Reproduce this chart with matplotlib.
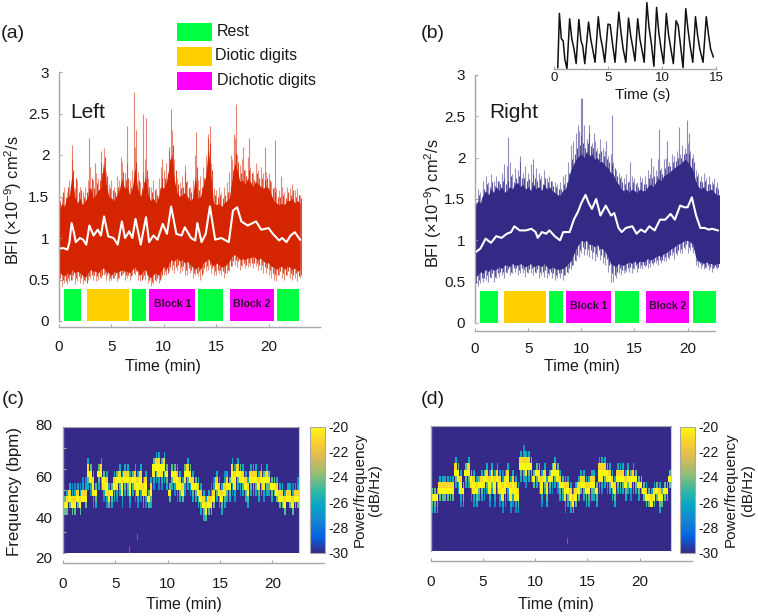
#!/usr/bin/env python3
"""BFI traces for left and right hemispheres with their spectrograms."""

import numpy as np
import matplotlib
matplotlib.use('Agg')
import matplotlib.pyplot as plt
from matplotlib.colors import LinearSegmentedColormap

W, H = 758, 616
GREY = '#A8A8A8'
TXT = '#1A1A1A'
RED = '#D42400'
BLUE = '#332A85'
GREEN = '#00FF40'
ORANGE = '#FFD000'
MAGENTA = '#FF00FF'

plt.rcParams.update({
    'font.family': ['Liberation Sans', 'DejaVu Sans'],
    'font.size': 10.5,
    'mathtext.fontset': 'custom',
    'mathtext.rm': 'Liberation Sans',
    'mathtext.default': 'regular',
    'text.color': TXT,
    'axes.unicode_minus': False,
})

PARULA = ['#352A87', '#0363E1', '#1485D4', '#06A7C6', '#38B99E',
          '#92BF73', '#D9BA56', '#FCCE2E', '#F9FB0E']

# one value every 0.25 min, 0 to 23 min
left_hi = [1.32, 1.42, 1.38, 1.48, 1.52, 1.78, 1.5, 1.42, 1.48, 1.4, 1.45, 1.5, 1.62, 1.48, 1.52, 1.58,
           1.6, 1.92, 1.65, 1.5, 1.48, 1.45, 1.52, 1.58, 1.72, 1.6, 1.62, 1.52, 1.6, 1.85, 1.6, 1.5,
           1.58, 1.75, 1.52, 1.45, 1.48, 1.42, 1.5, 1.62, 1.6, 1.68, 1.85, 2.02, 1.7, 1.55, 1.5, 1.52,
           1.55, 1.5, 1.45, 1.48, 1.75, 1.48, 1.5, 1.62, 1.75, 2.08, 1.72, 1.42, 1.4, 1.42, 1.38, 1.42,
           1.45, 1.48, 1.7, 1.9, 1.82, 1.68, 1.7, 1.65, 1.72, 1.68, 1.62, 1.68, 1.65, 1.62, 1.6, 1.62,
           1.6, 1.52, 1.45, 1.42, 1.4, 1.42, 1.4, 1.45, 1.45, 1.48, 1.42, 1.45, 1.42]
left_lo = [0.6, 0.56, 0.54, 0.58, 0.55, 0.62, 0.58, 0.6, 0.58, 0.55, 0.52, 0.58, 0.62, 0.6, 0.6, 0.58,
           0.62, 0.64, 0.6, 0.58, 0.55, 0.6, 0.58, 0.6, 0.62, 0.6, 0.6, 0.58, 0.62, 0.65, 0.6, 0.55,
           0.6, 0.62, 0.55, 0.52, 0.56, 0.58, 0.55, 0.6, 0.66, 0.62, 0.7, 0.74, 0.72, 0.76, 0.72, 0.74,
           0.7, 0.72, 0.68, 0.65, 0.62, 0.66, 0.62, 0.7, 0.72, 0.75, 0.7, 0.66, 0.7, 0.68, 0.65, 0.66,
           0.68, 0.72, 0.78, 0.8, 0.78, 0.74, 0.75, 0.74, 0.76, 0.76, 0.78, 0.76, 0.74, 0.76, 0.72, 0.7,
           0.7, 0.66, 0.65, 0.62, 0.65, 0.66, 0.62, 0.66, 0.65, 0.62, 0.64, 0.6, 0.62]
left_top = [1.6, 1.5, 1.62, 1.55, 1.7, 1.95, 1.6, 1.7, 1.62, 1.55, 1.62, 1.7, 1.85, 1.7, 1.78, 1.72,
            1.9, 2.08, 1.8, 1.65, 1.7, 1.62, 1.75, 1.7, 1.92, 1.78, 1.9, 1.7, 1.82, 2.1, 1.8, 1.68,
            1.8, 1.95, 1.72, 1.62, 1.7, 1.6, 1.72, 1.85, 1.82, 1.9, 2.05, 2.3, 1.95, 1.72, 1.68, 1.75,
            1.8, 1.7, 1.62, 1.7, 2.0, 1.7, 1.75, 1.85, 2.0, 2.25, 1.9, 1.6, 1.58, 1.62, 1.55, 1.62,
            1.68, 1.8, 1.95, 2.2, 2.0, 1.88, 1.95, 1.82, 1.98, 1.85, 1.8, 1.9, 1.82, 1.85, 1.78, 1.8,
            1.78, 1.68, 1.62, 1.6, 1.58, 1.62, 1.55, 1.62, 1.6, 1.65, 1.58, 1.6, 1.52]
left_top2 = [1.45, 1.55, 1.5, 1.62, 1.62, 1.82, 1.72, 1.55, 1.58, 1.5, 1.55, 1.6, 1.72, 1.6, 1.66, 1.7,
             1.78, 1.98, 1.75, 1.6, 1.58, 1.55, 1.62, 1.65, 1.8, 1.7, 1.72, 1.62, 1.7, 1.92, 1.7, 1.6,
             1.68, 1.82, 1.62, 1.55, 1.58, 1.52, 1.6, 1.72, 1.72, 1.78, 1.95, 2.12, 1.82, 1.65, 1.6, 1.62,
             1.68, 1.6, 1.55, 1.58, 1.85, 1.58, 1.62, 1.72, 1.85, 2.15, 1.82, 1.52, 1.5, 1.52, 1.48, 1.52,
             1.55, 1.62, 1.82, 2.02, 1.92, 1.78, 1.82, 1.75, 1.82, 1.78, 1.7, 1.78, 1.72, 1.72, 1.7, 1.72,
             1.7, 1.6, 1.55, 1.5, 1.5, 1.52, 1.48, 1.55, 1.52, 1.58, 1.5, 1.52, 1.48]
left_bot = [0.48, 0.42, 0.46, 0.44, 0.48, 0.5, 0.45, 0.48, 0.46, 0.44, 0.48, 0.5, 0.52, 0.5, 0.48, 0.5,
            0.52, 0.55, 0.5, 0.48, 0.5, 0.52, 0.48, 0.52, 0.55, 0.5, 0.52, 0.5, 0.55, 0.56, 0.5, 0.48,
            0.52, 0.5, 0.46, 0.42, 0.45, 0.48, 0.46, 0.52, 0.55, 0.56, 0.6, 0.62, 0.58, 0.62, 0.58, 0.6,
            0.56, 0.55, 0.58, 0.52, 0.55, 0.54, 0.5, 0.58, 0.6, 0.62, 0.58, 0.55, 0.56, 0.58, 0.55, 0.52,
            0.58, 0.6, 0.66, 0.68, 0.65, 0.62, 0.66, 0.64, 0.65, 0.66, 0.64, 0.66, 0.62, 0.62, 0.58, 0.58,
            0.55, 0.52, 0.5, 0.48, 0.55, 0.52, 0.5, 0.55, 0.52, 0.5, 0.52, 0.48, 0.52]
left_bot2 = [0.52, 0.5, 0.48, 0.52, 0.5, 0.55, 0.52, 0.54, 0.52, 0.5, 0.46, 0.54, 0.56, 0.55, 0.54, 0.53,
             0.56, 0.58, 0.55, 0.52, 0.52, 0.55, 0.52, 0.56, 0.58, 0.55, 0.55, 0.54, 0.58, 0.6, 0.55, 0.5,
             0.55, 0.56, 0.5, 0.47, 0.5, 0.52, 0.5, 0.55, 0.6, 0.58, 0.65, 0.68, 0.65, 0.68, 0.65, 0.66,
             0.62, 0.64, 0.62, 0.58, 0.58, 0.6, 0.55, 0.64, 0.66, 0.68, 0.64, 0.6, 0.62, 0.62, 0.6, 0.58,
             0.62, 0.66, 0.72, 0.74, 0.72, 0.68, 0.7, 0.68, 0.7, 0.7, 0.7, 0.7, 0.68, 0.68, 0.65, 0.64,
             0.62, 0.58, 0.56, 0.55, 0.6, 0.58, 0.56, 0.6, 0.58, 0.56, 0.58, 0.54, 0.56]
left_spike_t = [1.2, 2.9, 3.4, 4.0, 6.5, 7.2, 7.35, 8.0, 8.3, 10.5, 10.7, 13.1, 14.2, 14.4, 16.4, 16.7, 16.9,
                17.6, 18.1, 19.7, 20.6, 5.9, 12.0, 9.8, 21.2]
left_spike_y = [2.12, 2.2, 1.9, 2.05, 2.35, 2.76, 2.3, 2.5, 2.45, 2.1, 2.55, 2.28, 2.2, 2.35, 2.0, 2.25, 2.62,
                2.1, 2.2, 2.1, 2.18, 1.98, 1.88, 1.95, 1.75]
left_mean_t = [0, 0.4, 0.8, 1.0, 1.2, 1.4, 1.6, 2.0, 2.3, 2.6, 2.9, 3.3, 3.7, 4.0, 4.3, 4.7, 5.2, 5.6, 6.0, 6.3,
               6.7, 7.0, 7.3, 7.8, 8.3, 8.6, 9.0, 9.4, 9.9, 10.3, 10.7, 11.2, 11.7, 12.0, 12.6, 13.0, 13.2,
               13.6, 14.0, 14.4, 14.9, 15.5, 16.2, 16.6, 17.0, 17.4, 18.0, 18.8, 19.3, 20.0, 20.4, 21.0,
               21.3, 21.7, 22.1, 22.5, 23.0]
left_mean = [0.87, 0.88, 0.86, 0.95, 1.18, 1.08, 0.95, 1.0, 0.98, 0.92, 1.15, 1.03, 1.1, 1.03, 1.26, 1.02, 1.0,
             0.92, 1.2, 1.0, 1.08, 1.0, 1.23, 0.92, 1.25, 0.95, 1.03, 0.98, 1.17, 1.05, 1.38, 1.05, 1.03, 1.13,
             1.0, 0.97, 1.18, 0.95, 1.05, 1.38, 0.98, 1.0, 0.95, 1.33, 1.37, 1.2, 1.15, 1.2, 1.1, 1.12, 1.05,
             0.97, 1.0, 0.95, 1.03, 1.07, 0.98]

right_hi = [1.4, 1.48, 1.45, 1.55, 1.6, 1.55, 1.62, 1.58, 1.65, 1.6, 1.65, 1.58, 1.6, 1.65, 1.62, 1.68,
            1.7, 1.65, 1.68, 1.62, 1.65, 1.6, 1.68, 1.62, 1.65, 1.6, 1.68, 1.62, 1.65, 1.6, 1.58, 1.55,
            1.55, 1.6, 1.62, 1.72, 1.85, 1.92, 1.98, 2.02, 2.05, 2.0, 2.08, 2.02, 2.05, 1.98, 2.0, 1.95,
            1.95, 1.9, 1.88, 1.82, 1.8, 1.72, 1.68, 1.62, 1.6, 1.62, 1.58, 1.62, 1.6, 1.58, 1.62, 1.6,
            1.6, 1.65, 1.68, 1.65, 1.7, 1.75, 1.72, 1.78, 1.8, 1.82, 1.85, 1.88, 1.9, 1.92, 1.95, 1.98,
            1.95, 1.9, 1.85, 1.72, 1.65, 1.62, 1.65, 1.6, 1.6, 1.62, 1.58, 1.55, 1.55]
right_lo = [0.55, 0.58, 0.62, 0.6, 0.65, 0.62, 0.66, 0.64, 0.65, 0.68, 0.66, 0.7, 0.7, 0.68, 0.72, 0.7,
            0.7, 0.72, 0.7, 0.68, 0.7, 0.72, 0.68, 0.7, 0.7, 0.68, 0.72, 0.68, 0.65, 0.68, 0.66, 0.65,
            0.65, 0.66, 0.68, 0.72, 0.75, 0.82, 0.9, 0.95, 1.0, 0.98, 1.0, 0.95, 0.95, 0.92, 0.95, 0.9,
            0.9, 0.86, 0.8, 0.72, 0.7, 0.68, 0.72, 0.7, 0.7, 0.72, 0.74, 0.72, 0.75, 0.72, 0.75, 0.74,
            0.75, 0.78, 0.76, 0.78, 0.8, 0.82, 0.8, 0.84, 0.85, 0.88, 0.9, 0.92, 0.95, 0.96, 0.98, 1.0,
            1.0, 0.98, 0.95, 0.8, 0.75, 0.74, 0.72, 0.74, 0.72, 0.72, 0.7, 0.72, 0.72]
right_top = [1.5, 1.62, 1.58, 1.72, 1.78, 1.7, 1.8, 1.72, 1.78, 1.72, 1.82, 1.75, 1.9, 1.95, 1.8, 1.88,
             1.85, 1.95, 1.82, 1.9, 1.82, 1.92, 1.8, 1.88, 1.82, 1.78, 1.85, 1.75, 1.78, 1.72, 1.7, 1.68,
             1.7, 1.78, 1.8, 1.95, 2.15, 2.2, 2.3, 2.32, 2.28, 2.4, 2.22, 2.3, 2.18, 2.2, 2.12, 2.22,
             2.12, 2.08, 2.02, 2.05, 1.95, 1.85, 1.82, 1.78, 1.75, 1.8, 1.72, 1.78, 1.75, 1.7, 1.78, 1.75,
             1.78, 1.85, 1.8, 1.9, 1.85, 1.98, 1.88, 1.98, 2.0, 1.95, 2.05, 2.02, 2.08, 2.05, 2.15, 2.12,
             2.18, 2.08, 2.05, 1.85, 1.82, 1.78, 1.82, 1.75, 1.78, 1.72, 1.75, 1.7, 1.68]
right_top2 = [1.45, 1.55, 1.52, 1.62, 1.68, 1.64, 1.7, 1.66, 1.72, 1.68, 1.72, 1.68, 1.72, 1.78, 1.7, 1.76,
              1.78, 1.75, 1.76, 1.72, 1.74, 1.7, 1.76, 1.72, 1.74, 1.68, 1.76, 1.7, 1.72, 1.66, 1.64, 1.62,
              1.62, 1.68, 1.7, 1.82, 1.98, 2.05, 2.12, 2.15, 2.18, 2.12, 2.18, 2.14, 2.12, 2.08, 2.06, 2.08,
              2.02, 1.98, 1.95, 1.92, 1.88, 1.78, 1.75, 1.7, 1.68, 1.7, 1.65, 1.7, 1.68, 1.64, 1.7, 1.68,
              1.68, 1.75, 1.75, 1.78, 1.78, 1.85, 1.8, 1.88, 1.9, 1.9, 1.95, 1.96, 2.0, 2.0, 2.05, 2.06,
              2.05, 2.0, 1.95, 1.78, 1.72, 1.7, 1.72, 1.68, 1.68, 1.68, 1.65, 1.62, 1.62]
right_bot = [0.42, 0.45, 0.48, 0.5, 0.52, 0.5, 0.55, 0.5, 0.55, 0.56, 0.58, 0.55, 0.6, 0.58, 0.6, 0.62,
             0.58, 0.6, 0.6, 0.56, 0.6, 0.6, 0.58, 0.6, 0.55, 0.58, 0.56, 0.55, 0.58, 0.55, 0.52, 0.55,
             0.55, 0.52, 0.58, 0.6, 0.65, 0.7, 0.75, 0.8, 0.85, 0.82, 0.82, 0.8, 0.78, 0.75, 0.8, 0.76,
             0.72, 0.7, 0.62, 0.5, 0.5, 0.55, 0.6, 0.58, 0.6, 0.62, 0.62, 0.6, 0.65, 0.62, 0.66, 0.65,
             0.68, 0.66, 0.68, 0.7, 0.72, 0.7, 0.72, 0.75, 0.75, 0.78, 0.82, 0.78, 0.82, 0.85, 0.85, 0.9,
             0.85, 0.88, 0.85, 0.7, 0.68, 0.66, 0.65, 0.66, 0.64, 0.62, 0.66, 0.65, 0.65]
right_bot2 = [0.48, 0.52, 0.55, 0.55, 0.58, 0.56, 0.6, 0.56, 0.6, 0.62, 0.62, 0.62, 0.65, 0.62, 0.66, 0.66,
              0.64, 0.66, 0.65, 0.62, 0.65, 0.66, 0.62, 0.65, 0.62, 0.62, 0.64, 0.6, 0.62, 0.6, 0.58, 0.6,
              0.6, 0.58, 0.62, 0.66, 0.7, 0.76, 0.82, 0.88, 0.92, 0.9, 0.9, 0.88, 0.86, 0.84, 0.88, 0.82,
              0.8, 0.78, 0.7, 0.6, 0.58, 0.62, 0.66, 0.64, 0.64, 0.66, 0.68, 0.66, 0.7, 0.66, 0.7, 0.7,
              0.7, 0.72, 0.72, 0.74, 0.76, 0.76, 0.76, 0.8, 0.8, 0.82, 0.86, 0.85, 0.88, 0.9, 0.92, 0.95,
              0.92, 0.92, 0.9, 0.75, 0.72, 0.7, 0.68, 0.7, 0.68, 0.66, 0.68, 0.68, 0.68]
right_spike_t = [3.1, 2.7, 4.2, 5.5, 9.7, 9.95, 10.1, 10.7, 11.2, 12.3, 12.9, 14.6, 16.6, 17.3, 18.1, 19.2, 19.9, 20.1]
right_spike_y = [2.25, 1.92, 2.02, 1.98, 2.4, 2.72, 2.72, 2.4, 2.3, 2.2, 2.52, 1.95, 2.0, 2.35, 2.2, 2.37, 2.45, 2.3]
right_mean_t = [0, 0.5, 1.0, 1.5, 2.0, 2.5, 3.0, 3.4, 3.7, 4.2, 4.8, 5.3, 5.7, 5.9, 6.3, 6.7, 7.0, 7.5, 8.0, 8.3,
                8.9, 9.3, 9.7, 10.0, 10.4, 10.7, 11.0, 11.4, 11.8, 12.3, 12.8, 13.1, 13.5, 13.8, 14.2, 14.8, 15.2,
                15.6, 16.0, 16.4, 16.9, 17.4, 17.9, 18.4, 18.8, 19.3, 19.7, 20.0, 20.4, 20.8, 21.2, 21.6, 22.0,
                22.3, 22.85]
right_mean = [0.85, 0.9, 1.02, 0.97, 1.05, 1.03, 1.08, 1.1, 1.17, 1.12, 1.12, 1.14, 1.1, 1.03, 1.1, 1.08, 1.12,
              1.05, 1.0, 1.1, 1.1, 1.25, 1.35, 1.45, 1.55, 1.45, 1.38, 1.5, 1.3, 1.42, 1.3, 1.33, 1.15, 1.1, 1.15,
              1.17, 1.08, 1.13, 1.1, 1.17, 1.12, 1.25, 1.25, 1.32, 1.25, 1.42, 1.4, 1.4, 1.52, 1.3, 1.15, 1.15,
              1.13, 1.14, 1.12]

# task blocks, start and end in min
left_block_start = [0.45, 2.7, 6.97, 8.6, 13.28, 16.27, 20.76]
left_block_end = [2.13, 6.72, 8.3, 13.0, 15.64, 20.48, 22.93]
right_block_start = [0.5, 2.73, 6.93, 8.53, 13.13, 16.08, 20.5]
right_block_end = [2.16, 6.68, 8.24, 12.82, 15.45, 20.16, 22.63]
block_colors = [GREEN, ORANGE, GREEN, MAGENTA, GREEN, MAGENTA, GREEN]
block_names = ['', '', '', 'Block 1', '', 'Block 2', '']

legend_names = ['Rest', 'Diotic digits', 'Dichotic digits']
legend_colors = [GREEN, ORANGE, MAGENTA]

# inset pulse trace
pulse_t = [0.35, 0.5, 0.68, 0.85, 1.0, 1.2, 1.45, 1.65, 1.85, 2.05, 2.3, 2.5, 2.65, 2.85, 3.2, 3.4, 3.6, 3.8,
           4.1, 4.3, 4.5, 4.7, 5.0, 5.2, 5.4, 5.65, 6.0, 6.2, 6.4, 6.65, 6.9, 7.1, 7.3, 7.5, 7.75, 7.95, 8.15,
           8.35, 8.6, 8.8, 9.0, 9.25, 9.5, 9.7, 9.9, 10.15, 10.4, 10.6, 10.8, 11.05, 11.3, 11.5, 11.75, 11.95,
           12.2, 12.4, 12.6, 12.85, 13.1, 13.3, 13.5, 13.8, 14.1, 14.3, 14.5, 14.75]
pulse_v = [0.02, 0.83, 0.45, 0.42, 0.15, 0.0, 0.75, 0.45, 0.3, 0.08, 0.74, 0.42, 0.35, 0.08, 0.7, 0.45, 0.28, 0.1,
           0.78, 0.48, 0.32, 0.1, 0.67, 0.66, 0.4, 0.1, 0.85, 0.55, 0.3, 0.1, 0.76, 0.5, 0.32, 0.12, 0.75, 0.45,
           0.28, 0.1, 0.99, 0.62, 0.4, 0.04, 0.92, 0.55, 0.32, 0.08, 0.83, 0.52, 0.32, 0.08, 0.72, 0.65, 0.3, 0.02,
           0.9, 0.6, 0.35, 0.1, 0.78, 0.5, 0.3, 0.1, 0.78, 0.52, 0.3, 0.18]

# spectrogram ridge (bpm), one value every 0.25 min, with the rows of spread above and below
c_ridge = [42.5, 42.5, 45.5, 42.5, 42.5, 45.5, 42.5, 45.5, 45.5, 57.5, 57.5, 51.5, 48.5, 57.5, 57.5, 54.5, 51.5, 45.5,
           48.5, 51.5, 54.5, 54.5, 51.5, 54.5, 54.5, 51.5, 54.5, 54.5, 51.5, 54.5, 48.5, 51.5, 45.5, 48.5, 60.5, 60.5,
           60.5, 60.5, 60.5, 57.5, 48.5, 57.5, 57.5, 54.5, 51.5, 48.5, 57.5, 57.5, 57.5, 51.5, 51.5, 48.5, 45.5, 42.5,
           39.5, 42.5, 42.5, 45.5, 51.5, 48.5, 45.5, 48.5, 51.5, 51.5, 57.5, 54.5, 57.5, 57.5, 54.5, 51.5, 48.5, 54.5,
           54.5, 54.5, 51.5, 54.5, 54.5, 54.5, 54.5, 51.5, 51.5, 48.5, 45.5, 45.5, 42.5, 45.5, 45.5, 42.5, 45.5, 45.5]
c_up = [1, 2, 2, 3, 3, 2, 3, 3, 3, 2, 1, 2, 1, 1, 2, 1, 2, 2, 1, 2, 1, 2, 2, 2, 2, 2, 1, 2, 2, 2, 2, 2, 1, 2, 1, 2,
        2, 1, 2, 1, 1, 1, 1, 2, 2, 2, 1, 2, 1, 2, 1, 2, 2, 2, 2, 2, 3, 3, 2, 2, 2, 3, 2, 1, 2, 2, 2, 1, 2, 2, 2, 2,
        2, 2, 2, 2, 1, 2, 1, 1, 1, 2, 2, 2, 2, 2, 2, 3, 2, 3]
c_dn = [1, 1, 1, 1, 1, 1, 1, 0, 1, 2, 3, 3, 2, 2, 2, 3, 3, 1, 2, 2, 3, 2, 3, 2, 2, 3, 2, 3, 3, 3, 2, 3, 1, 2, 3, 2,
        3, 3, 2, 2, 1, 2, 3, 3, 2, 1, 3, 2, 3, 2, 2, 2, 2, 2, 1, 1, 1, 1, 2, 2, 2, 2, 2, 2, 3, 3, 2, 3, 2, 2, 2, 2,
        2, 2, 2, 2, 3, 2, 2, 2, 1, 1, 1, 1, 1, 0, 1, 1, 1, 1]
d_ridge = [45.5, 45.5, 45.5, 48.5, 48.5, 48.5, 48.5, 48.5, 48.5, 57.5, 57.5, 51.5, 48.5, 57.5, 57.5, 54.5, 51.5, 48.5,
           51.5, 51.5, 54.5, 54.5, 51.5, 54.5, 51.5, 54.5, 51.5, 48.5, 51.5, 54.5, 48.5, 51.5, 48.5, 45.5, 60.5, 60.5,
           60.5, 60.5, 60.5, 54.5, 57.5, 57.5, 51.5, 54.5, 48.5, 54.5, 57.5, 57.5, 57.5, 51.5, 51.5, 48.5, 48.5, 45.5,
           42.5, 45.5, 48.5, 51.5, 51.5, 48.5, 48.5, 51.5, 51.5, 48.5, 57.5, 57.5, 57.5, 57.5, 54.5, 51.5, 48.5, 54.5,
           54.5, 54.5, 51.5, 54.5, 54.5, 54.5, 54.5, 51.5, 51.5, 48.5, 45.5, 45.5, 42.5, 45.5, 48.5, 45.5, 45.5, 48.5,
           48.5, 54.5]
d_up = [1, 1, 1, 2, 2, 2, 2, 2, 2, 2, 1, 2, 1, 1, 2, 1, 2, 2, 1, 2, 1, 2, 2, 2, 2, 2, 2, 3, 2, 2, 2, 2, 2, 2, 2, 3,
        2, 2, 1, 1, 1, 1, 2, 2, 2, 1, 1, 2, 1, 2, 1, 2, 2, 2, 2, 2, 2, 2, 2, 2, 2, 2, 2, 1, 2, 2, 2, 1, 2, 2, 2, 2,
        2, 2, 2, 2, 1, 2, 1, 1, 1, 1, 2, 1, 2, 2, 1, 2, 1, 1, 1, 1]
d_dn = [2, 2, 2, 1, 1, 1, 1, 1, 1, 2, 3, 3, 2, 2, 2, 3, 3, 2, 2, 2, 3, 2, 3, 2, 3, 2, 3, 3, 3, 3, 3, 3, 3, 2, 2, 2,
        3, 2, 2, 1, 2, 3, 3, 2, 2, 2, 3, 2, 3, 2, 2, 3, 2, 2, 1, 1, 1, 1, 2, 2, 2, 2, 2, 2, 3, 3, 2, 3, 2, 2, 2, 2,
        2, 2, 2, 2, 3, 2, 2, 2, 1, 1, 1, 1, 0, 1, 1, 2, 1, 1, 1, 1]
c_stray_col = [25, 28]
c_stray_bpm = [21.5, 27.5]
d_stray_col = [52, 54]
d_stray_bpm = [24.5, 78.5]
freq_edges = [20, 23, 26, 29, 32, 35, 38, 41, 44, 47, 50, 53, 56, 59, 62, 65, 68, 71, 74, 77, 80]


def px_axes(fig, x0, x1, y_top, y_bot):
    return fig.add_axes([x0 / W, 1 - y_bot / H, (x1 - x0) / W, (y_bot - y_top) / H])


def px_text(fig, x, y, s, **kw):
    kw.setdefault('ha', 'center')
    kw.setdefault('va', 'center')
    fig.text(x / W, 1 - y / H, s, **kw)


def style_axes(ax):
    ax.patch.set_alpha(0)
    for side in ['top', 'right']:
        ax.spines[side].set_visible(False)
    for side in ['left', 'bottom']:
        ax.spines[side].set_color(GREY)
        ax.spines[side].set_linewidth(1.0)
    ax.tick_params(colors=GREY, labelcolor=TXT, direction='in', length=2.5, width=0.8)


def trace_panel(fig, box, scale, hi, lo, top, top2, bot, bot2, spike_t, spike_y, mean_t, mean, color,
                starts, ends, name, name_xy, ylabel_xy, xlabel_xy, outward, xpad, x_stop):
    ax = px_axes(fig, *box)
    style_axes(ax)
    t = np.arange(len(hi)) * 0.25
    ax.vlines(t, bot, top, color=color, lw=0.8, alpha=0.5)
    ax.vlines(t + 0.125, bot2, top2, color=color, lw=0.8, alpha=0.8)
    ax.vlines(spike_t, 1.0, spike_y, color=color, lw=0.8, alpha=0.55)
    ax.fill_between(t, lo, hi, color=color, lw=0)
    ax.plot(mean_t, mean, color='white', lw=1.5, solid_joinstyle='round')
    for s, e, c, label in zip(starts, ends, block_colors, block_names):
        ax.bar(s, 0.385, width=e - s, align='edge', color=c, lw=0)
        if label:
            ax.text((s + e) / 2, 0.2, label, ha='center', va='center', fontsize=7.6,
                    fontweight='bold', color='#301030')
    ax.set_xlim(0, (box[1] - box[0]) / scale)
    ax.set_ylim(0, 3)
    ax.set_xticks([0, 5, 10, 15, 20])
    ax.set_yticks([0, 0.5, 1, 1.5, 2, 2.5, 3])
    ax.set_yticklabels(['0', '0.5', '1', '1.5', '2', '2.5', '3'])
    ax.spines['bottom'].set_position(('outward', outward))
    ax.spines['bottom'].set_bounds(0, x_stop)
    ax.tick_params(axis='x', pad=xpad, labelsize=11)
    ax.tick_params(axis='y', pad=7, labelsize=11)
    px_text(fig, *name_xy, name, fontsize=15)
    px_text(fig, *ylabel_xy, 'BFI (×10$^{-9}$) cm$^{2}$/s', rotation=90, fontsize=11.8)
    px_text(fig, *xlabel_xy, 'Time (min)', fontsize=11.5)
    return ax


def spec_matrix(ridge, up, dn):
    # three image columns per value, the streaks of spread only fill the last two
    m = np.full((len(freq_edges) - 1, len(ridge) * 3), -30.0)
    levels = [-24.5, -26.0, -27.5]
    for col, (f, u, d) in enumerate(zip(ridge, up, dn)):
        r = int((f - 20) // 3)
        m[r, col * 3:col * 3 + 3] = -20
        if u >= 2:
            m[r + 1, col * 3:col * 3 + 3] = -21
        if d >= 3:
            m[r - 1, col * 3:col * 3 + 3] = -20.5
        for k in range(u):
            cells = m[r + 1 + k, col * 3 + 1:col * 3 + 3]
            cells[cells == -30] = levels[k]
        for k in range(d):
            cells = m[r - 1 - k, col * 3 + 1:col * 3 + 3]
            cells[cells == -30] = levels[k]
    return m


def spec_panel(fig, box, cbox, ridge, up, dn, stray_col, stray_bpm, cmap, x_end, spine_end,
               xlabel_x, label1_x, label2_x, show_y):
    ax = px_axes(fig, *box)
    m = spec_matrix(ridge, up, dn)
    for col, f in zip(stray_col, stray_bpm):
        m[int((f - 20) // 3), col * 3 + 1] = -27.5
    edges_t = np.arange(m.shape[1] + 1) * x_end / m.shape[1]
    im = ax.pcolormesh(edges_t, freq_edges, m, cmap=cmap, vmin=-30, vmax=-20, rasterized=True)
    scale = (box[1] - box[0]) / x_end
    ax.set_xlim(0, x_end)
    ax.set_ylim(20, 80)
    style_axes(ax)
    ax.spines['bottom'].set_position(('outward', 7.5))
    ax.spines['bottom'].set_bounds(0, (spine_end - box[0]) / scale)
    ax.set_xticks([0, 5, 10, 15, 20])
    ax.tick_params(axis='x', pad=10, labelsize=11)
    ax.spines['right'].set_visible(True)
    ax.spines['right'].set_color('#C8C8D8')
    ax.spines['top'].set_visible(True)
    ax.spines['top'].set_color(GREY)
    ax.spines['left'].set_color(GREY)
    ax.set_yticks([20, 30, 40, 50, 60, 70, 80])
    ax.set_yticklabels([])
    if not show_y:
        ax.set_yticks([])
    cax = px_axes(fig, *cbox)
    cb = fig.colorbar(im, cax=cax)
    cb.set_ticks([-30, -28, -26, -24, -22, -20])
    cb.ax.tick_params(length=0, pad=2.5, labelsize=10, labelcolor=TXT)
    cb.outline.set_edgecolor(GREY)
    cb.outline.set_linewidth(0.8)
    px_text(fig, xlabel_x, 605, 'Time (min)', fontsize=11.5)
    px_text(fig, label1_x, 490, 'Power/frequency', rotation=90, fontsize=11)
    px_text(fig, label2_x, 490, '(dB/Hz)', rotation=90, fontsize=11)
    return ax


fig = plt.figure(figsize=(W / 100, H / 100), dpi=100, facecolor='white')

trace_panel(fig, (59, 320, 72, 321), 10.48, left_hi, left_lo, left_top, left_top2, left_bot, left_bot2,
            left_spike_t, left_spike_y, left_mean_t, left_mean, RED,
            left_block_start, left_block_end, 'Left', (88, 112), (13, 200), (163, 367), 4.3, 9.5, 24.9)
trace_panel(fig, (475, 719, 75, 323), 10.63, right_hi, right_lo, right_top, right_top2, right_bot, right_bot2,
            right_spike_t, right_spike_y, right_mean_t, right_mean, BLUE,
            right_block_start, right_block_end, 'Right', (514, 112), (433, 203), (582, 367), 5.8, 8, 22.6)

# inset
ins = px_axes(fig, 554, 716, 2, 69)
style_axes(ins)
ins.plot(pulse_t, pulse_v, color='#111111', lw=1.1)
ins.set_xlim(0, 15)
ins.set_ylim(0, 1)
ins.spines['left'].set_visible(False)
ins.set_yticks([])
ins.set_xticks([0, 5, 10, 15])
ins.tick_params(axis='x', pad=2, labelsize=9.5)
px_text(fig, 643, 95, 'Time (s)', fontsize=11)

parula = LinearSegmentedColormap.from_list('parula', PARULA)
ax_c = spec_panel(fig, (63, 299, 426.5, 552.5), (310, 325, 426.5, 552.5), c_ridge, c_up, c_dn,
                  c_stray_col, c_stray_bpm, parula, 22.55, 323.5, 184, 360, 375, True)
spec_panel(fig, (430.5, 671, 426, 550.5), (680, 695, 426.5, 552.5), d_ridge, d_up, d_dn,
           d_stray_col, d_stray_bpm, parula, 23.0, 692, 556, 731, 748, False)

# the frequency labels sit off their ticks in the original
for label, y in zip(['80', '60', '40', '20'], [426, 478, 519, 559]):
    px_text(fig, 44, y, label, fontsize=11)
px_text(fig, 15, 492, 'Frequency (bpm)', rotation=90, fontsize=12.2)

# legend
for i, (name, c) in enumerate(zip(legend_names, legend_colors)):
    y = [22.7, 47.3, 72][i]
    fig.patches.append(plt.Rectangle((177 / W, 1 - (y + 18.3) / H), 35 / W, 18.3 / H,
                                     transform=fig.transFigure, facecolor=c, lw=0))
    px_text(fig, [217, 214.5, 217][i], y + 8.5, name, ha='left', fontsize=11.5)

for label, x, y in zip(['(a)', '(b)', '(c)', '(d)'], [13, 433, 13, 433], [33, 33, 400, 400]):
    px_text(fig, x, y, label, fontsize=14)

fig.savefig('out.png', dpi=100)
